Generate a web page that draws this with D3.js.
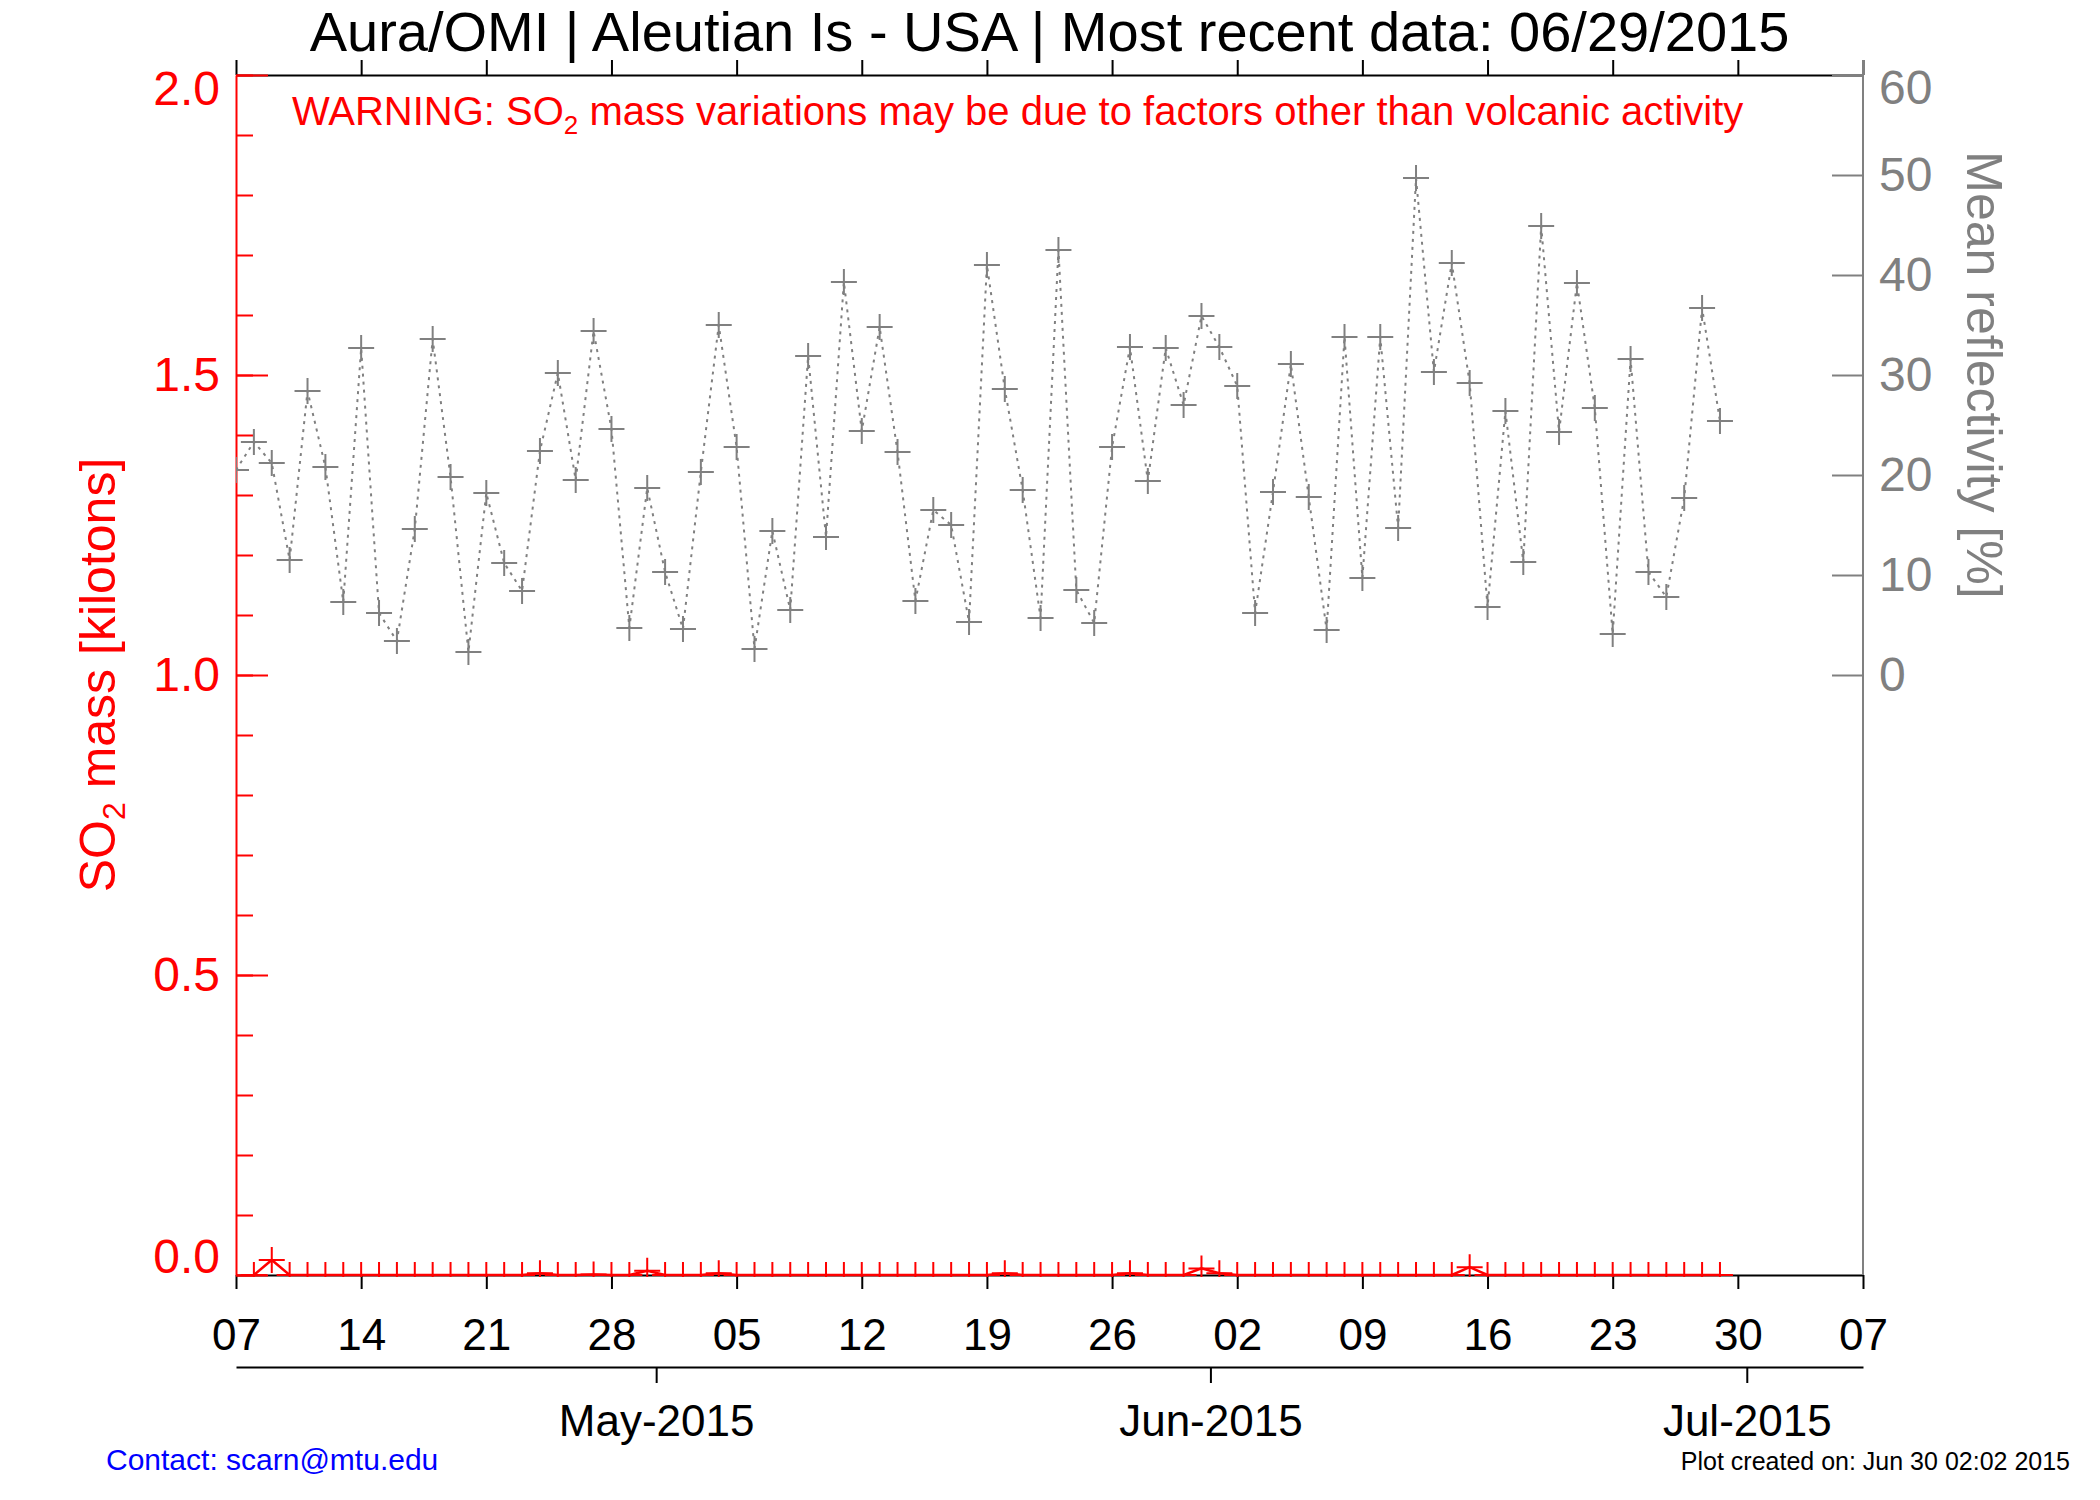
<!DOCTYPE html>
<html>
<head>
<meta charset="utf-8">
<script src="https://cdnjs.cloudflare.com/ajax/libs/d3/7.8.5/d3.min.js"></script>
<style>
  html, body { margin: 0; padding: 0; background: #fff; }
  svg { display: block; font-family: "Liberation Sans", Arial, Helvetica, sans-serif; }
</style>
</head>
<body>
<svg id="chart" width="2100" height="1500"></svg>
<script>
// daily series, first day of each series + values
var reflStart = '2015-04-07';
var reflValues = [
  20.5, 23.3, 21.2, 11.5, 28.4, 20.8, 7.3, 32.7, 6.2, 3.4,
  14.6, 33.6, 19.8, 2.3, 18.2, 11.2, 8.4, 22.4, 30.2, 19.5,
  34.4, 24.6, 4.7, 18.7, 10.3, 4.6, 20.3, 35.0, 22.8, 2.6,
  14.4, 6.5, 31.9, 13.8, 39.3, 24.4, 34.8, 22.3, 7.4, 16.5,
  15.0, 5.3, 41.0, 28.6, 18.5, 5.7, 42.5, 8.5, 5.2, 22.8,
  32.8, 19.4, 32.7, 27.0, 35.9, 32.8, 28.9, 6.2, 18.3, 31.1,
  17.8, 4.5, 33.8, 9.7, 33.8, 14.7, 49.7, 30.3, 41.2, 29.2,
  6.8, 26.4, 11.3, 44.9, 24.3, 39.2, 26.7, 4.1, 31.6, 10.3,
  7.8, 17.7, 36.7, 25.4
];

var so2Start = '2015-04-08';
var so2Values = [
  0, 0.025, 0, 0, 0, 0, 0, 0, 0, 0,
  0, 0, 0, 0, 0, 0, 0.003, 0, 0, 0.001,
  0, 0, 0.007, 0, 0, 0, 0.003, 0, 0, 0,
  0, 0, 0, 0, 0, 0, 0, 0, 0, 0,
  0, 0, 0.003, 0, 0, 0, 0, 0, 0, 0.003,
  0, 0, 0, 0.011, 0.003, 0, 0, 0, 0, 0,
  0, 0, 0, 0, 0, 0, 0, 0, 0.013, 0,
  0, 0, 0, 0, 0, 0, 0, 0, 0, 0,
  0, 0, 0
];

var weekTicks = ['2015-04-07', '2015-04-14', '2015-04-21', '2015-04-28', '2015-05-05',
  '2015-05-12', '2015-05-19', '2015-05-26', '2015-06-02', '2015-06-09',
  '2015-06-16', '2015-06-23', '2015-06-30', '2015-07-07'];
var monthTicks = ['2015-05-01', '2015-06-01', '2015-07-01'];
var so2Ticks = [0, 0.5, 1.0, 1.5, 2.0];
var reflTicks = [0, 10, 20, 30, 40, 50, 60];

var titleText = 'Aura/OMI | Aleutian Is - USA | Most recent data: 06/29/2015';
var contactText = 'Contact: scarn@mtu.edu';
var createdText = 'Plot created on: Jun 30 02:02 2015';

var RED = '#ff0000', GRAY = '#808080', BLACK = '#000000';

var parse = d3.utcParse('%Y-%m-%d');
function dailySeries(start, values) {
  var t0 = parse(start);
  return values.map(function(v, i) { return { date: d3.utcDay.offset(t0, i), value: v }; });
}
var refl = dailySeries(reflStart, reflValues);
var so2 = dailySeries(so2Start, so2Values);

var plotL = 236, plotR = 1863, plotT = 75, plotB = 1275;

var x = d3.scaleUtc()
  .domain([parse('2015-04-07'), parse('2015-07-07')])
  .range([plotL, plotR]);
var y = d3.scaleLinear().domain([0, 2]).range([plotB, plotT]);
var y2 = d3.scaleLinear().domain([0, 60]).range([y(1), plotT]);

var svg = d3.select('#chart');

svg.append('defs').append('clipPath').attr('id', 'plotclip')
  .append('rect')
  .attr('x', plotL).attr('y', plotT)
  .attr('width', plotR - plotL).attr('height', plotB - plotT + 2);

function styleAxis(g, color, width, fontSize) {
  g.attr('font-family', null).attr('font-size', null);
  g.select('.domain').attr('stroke', color).attr('stroke-width', width);
  g.selectAll('.tick line').attr('stroke', color).attr('stroke-width', width);
  g.selectAll('.tick text').attr('fill', color).style('font-size', fontSize + 'px');
}

// top axis, ticks only
svg.append('g')
  .attr('transform', 'translate(0,' + plotT + ')')
  .call(d3.axisTop(x).tickValues(weekTicks.map(parse)).tickSize(15).tickSizeOuter(0).tickFormat(''))
  .call(styleAxis, BLACK, 2, 44);

// bottom day axis
svg.append('g')
  .attr('transform', 'translate(0,' + plotB + ')')
  .call(d3.axisBottom(x).tickValues(weekTicks.map(parse)).tickSize(14).tickSizeOuter(0)
    .tickPadding(30).tickFormat(d3.utcFormat('%d')))
  .call(styleAxis, BLACK, 2, 44);

// month axis underneath (IDL puts the month ticks half a day early)
var monthAxisY = 1367;
var monthFmt = d3.utcFormat('%b-%Y');
svg.append('g')
  .attr('transform', 'translate(0,' + monthAxisY + ')')
  .call(d3.axisBottom(x)
    .tickValues(monthTicks.map(function(s) { return d3.utcHour.offset(parse(s), -12); }))
    .tickSize(16).tickSizeOuter(0).tickPadding(22)
    .tickFormat(function(d) { return monthFmt(d3.utcHour.offset(d, 12)); }))
  .call(styleAxis, BLACK, 2, 44);

// right reflectivity axis
svg.append('line')
  .attr('x1', plotR).attr('x2', plotR)
  .attr('y1', plotT - 15).attr('y2', plotB)
  .attr('stroke', GRAY).attr('stroke-width', 2);
var gR = svg.append('g')
  .attr('transform', 'translate(' + plotR + ',0)')
  .call(d3.axisRight(y2).tickValues(reflTicks).tickSizeInner(-31).tickSizeOuter(0).tickPadding(16))
  .call(styleAxis, GRAY, 2, 48);
gR.select('.domain').remove();
gR.selectAll('.tick text').filter(function(d) { return d === 60; }).attr('dy', '0.6em');

// left SO2 axis, minor then major ticks
var gLm = svg.append('g')
  .attr('transform', 'translate(' + plotL + ',0)')
  .call(d3.axisLeft(y).tickValues(d3.range(0, 21).map(function(i) { return i / 10; }))
    .tickSize(-17).tickFormat(''))
  .call(styleAxis, RED, 2, 48);
gLm.select('.domain').remove();
var gL = svg.append('g')
  .attr('transform', 'translate(' + plotL + ',0)')
  .call(d3.axisLeft(y).tickValues(so2Ticks).tickSizeInner(-32).tickSizeOuter(0)
    .tickPadding(16).tickFormat(d3.format('.1f')))
  .call(styleAxis, RED, 2, 48);
gL.selectAll('.tick text')
  .filter(function(d) { return d === 2; }).attr('dy', '0.62em');
gL.selectAll('.tick text')
  .filter(function(d) { return d === 0; }).attr('dy', '-0.05em');

var plot = svg.append('g').attr('clip-path', 'url(#plotclip)');

function plusPath(size) {
  return 'M' + (-size) + ',0H' + size + 'M0,' + (-size) + 'V' + size;
}

// reflectivity: gray dotted line + plus symbols
plot.append('path')
  .datum(refl)
  .attr('fill', 'none')
  .attr('stroke', GRAY)
  .attr('stroke-width', 2)
  .attr('stroke-dasharray', '3,5')
  .attr('d', d3.line().x(function(d) { return x(d.date); }).y(function(d) { return y2(d.value); }));

plot.selectAll('.refl-mark')
  .data(refl)
  .enter().append('path')
  .attr('class', 'refl-mark')
  .attr('transform', function(d) { return 'translate(' + x(d.date) + ',' + y2(d.value) + ')'; })
  .attr('d', plusPath(13))
  .attr('stroke', GRAY)
  .attr('stroke-width', 2)
  .attr('fill', 'none');

// SO2 mass: red line + plus symbols
plot.append('path')
  .datum(so2)
  .attr('fill', 'none')
  .attr('stroke', RED)
  .attr('stroke-width', 2.5)
  .attr('d', d3.line().x(function(d) { return x(d.date); }).y(function(d) { return y(d.value); }));

plot.selectAll('.so2-mark')
  .data(so2)
  .enter().append('path')
  .attr('class', 'so2-mark')
  .attr('transform', function(d) { return 'translate(' + x(d.date) + ',' + y(d.value) + ')'; })
  .attr('d', plusPath(13))
  .attr('stroke', RED)
  .attr('stroke-width', 2)
  .attr('fill', 'none');

// texts
svg.append('text')
  .attr('x', (plotL + plotR) / 2).attr('y', 51)
  .attr('text-anchor', 'middle')
  .style('font-size', '56px')
  .attr('fill', BLACK)
  .text(titleText);

var warn = svg.append('text')
  .attr('x', 292).attr('y', 125)
  .style('font-size', '40px')
  .attr('fill', RED);
warn.append('tspan').text('WARNING: SO');
warn.append('tspan').attr('dy', 9).style('font-size', '26px').text('2');
warn.append('tspan').attr('dy', -9).text(' mass variations may be due to factors other than volcanic activity');

var lt = svg.append('text')
  .attr('transform', 'translate(115,' + (plotT + plotB) / 2 + ') rotate(-90)')
  .attr('text-anchor', 'middle')
  .style('font-size', '50px')
  .attr('fill', RED);
lt.append('tspan').text('SO');
lt.append('tspan').attr('dy', 10).style('font-size', '32px').text('2');
lt.append('tspan').attr('dy', -10).text(' mass [kilotons]');

svg.append('text')
  .attr('transform', 'translate(1967,' + y2(30) + ') rotate(90)')
  .attr('text-anchor', 'middle')
  .style('font-size', '50px')
  .attr('fill', GRAY)
  .text('Mean reflectivity [%]');

svg.append('text')
  .attr('x', 106).attr('y', 1470)
  .style('font-size', '30px')
  .attr('fill', '#0000ff')
  .text(contactText);

svg.append('text')
  .attr('x', 2070).attr('y', 1470)
  .attr('text-anchor', 'end')
  .style('font-size', '25px')
  .attr('fill', BLACK)
  .text(createdText);
</script>
</body>
</html>
